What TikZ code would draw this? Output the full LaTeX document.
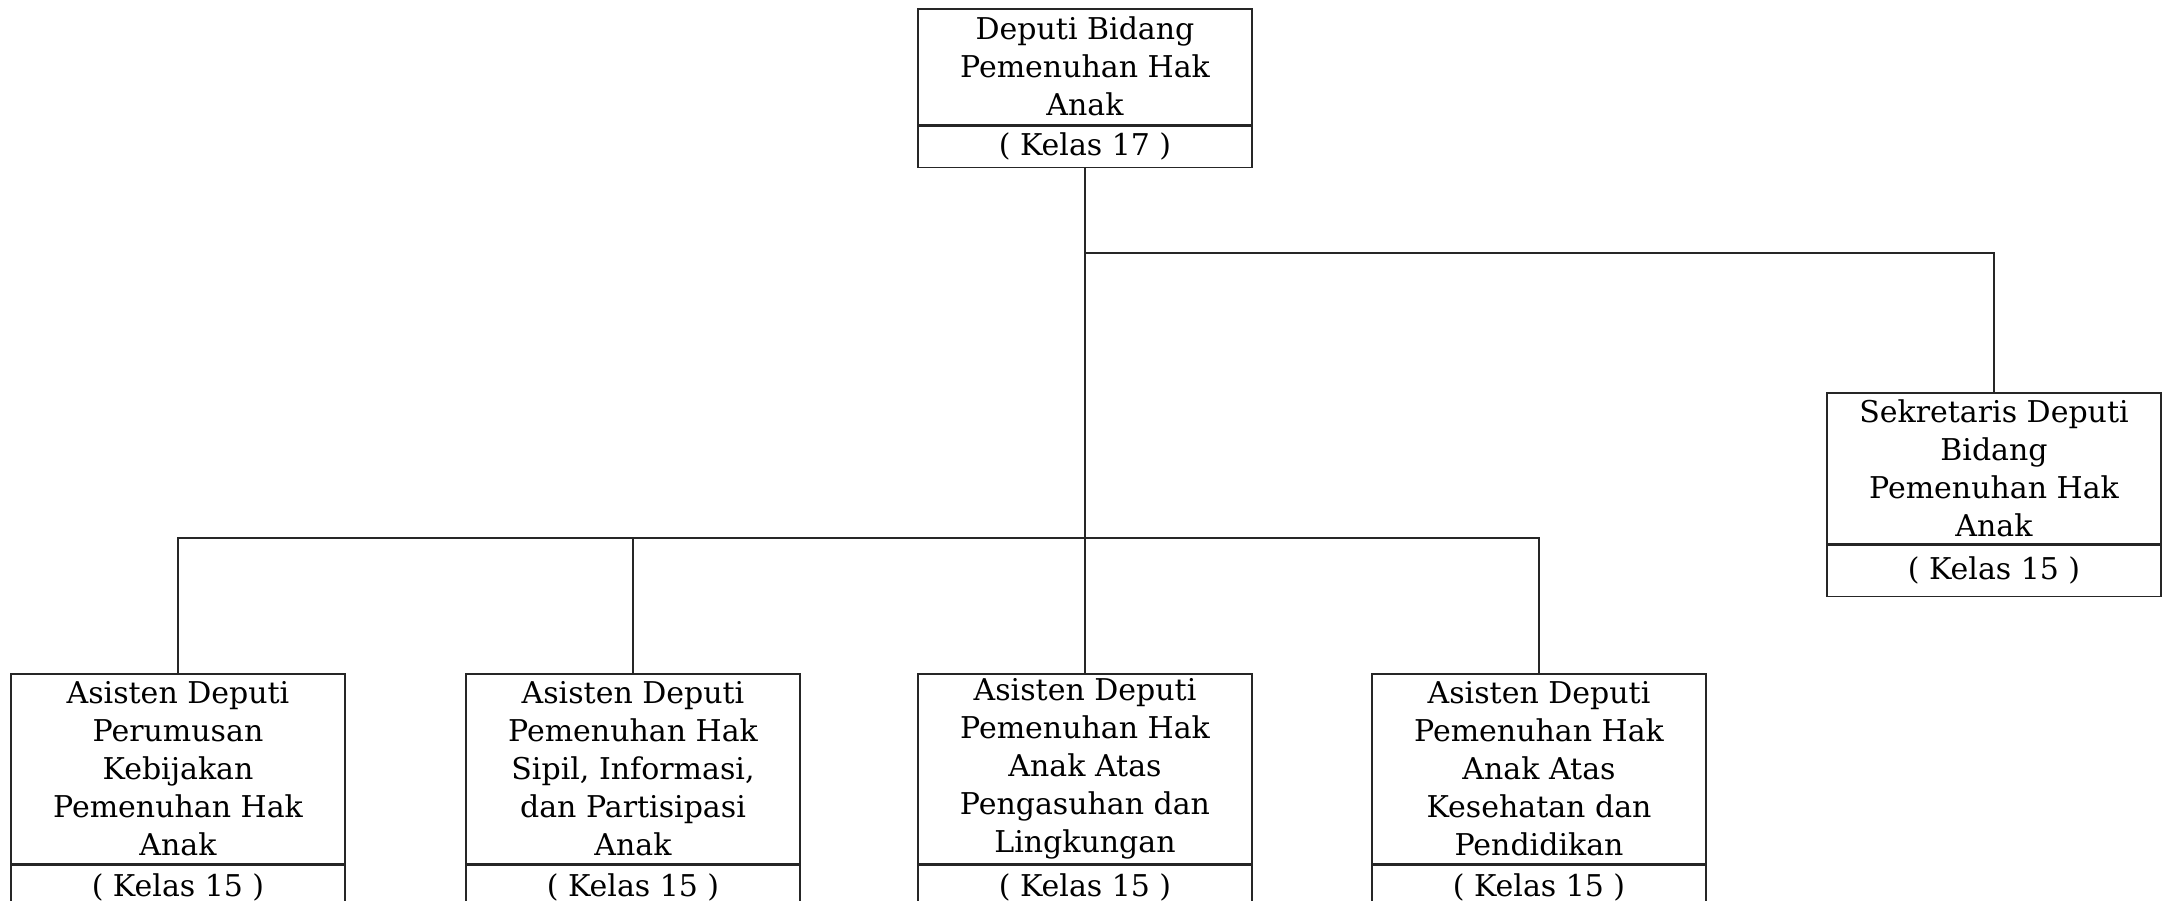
\documentclass[tikz,border=0pt]{standalone}
\usepackage{fontspec}
\setmainfont{DejaVu Serif}
\begin{document}
\begin{tikzpicture}[x=0.5pt,y=-0.5pt,
  color=black!85, line width=0.8pt,
  boxfont/.style={font=\fontsize{15}{19}\selectfont},
  title/.style={draw, rectangle, minimum width=167pt, inner sep=0pt, align=center, anchor=north, boxfont, text=black},
  kelas/.style={draw, rectangle, minimum width=167pt, inner sep=0pt, anchor=north, boxfont, text=black},
  link/.style={draw, line width=0.8pt}]
\useasboundingbox (0,0) rectangle (2168,900);
\clip (0,0) rectangle (2168,900);
\fill[white] (0,0) rectangle (2168,900);

% top
\node[title, minimum height=58pt] (dep) at (1085,8) {Deputi Bidang\\Pemenuhan Hak\\Anak};
\node[kelas, minimum height=20.5pt] (depk) at (dep.south) {( Kelas 17 )};

% secretary
\node[title, minimum height=75.5pt] (sek) at (1994,392) {Sekretaris Deputi\\Bidang\\Pemenuhan Hak\\Anak};
\node[kelas, minimum height=25.5pt] (sekk) at (sek.south) {( Kelas 15 )};

% bottom row
\node[title, minimum height=95pt] (b1) at (178,673) {Asisten Deputi\\Perumusan\\Kebijakan\\Pemenuhan Hak\\Anak};
\node[kelas, minimum height=22pt] (b1k) at (b1.south) {( Kelas 15 )};
\node[title, minimum height=95pt] (b2) at (633,673) {Asisten Deputi\\Pemenuhan Hak\\Sipil, Informasi,\\dan Partisipasi\\Anak};
\node[kelas, minimum height=22pt] (b2k) at (b2.south) {( Kelas 15 )};
\node[title, minimum height=95pt] (b3) at (1085,673) {Asisten Deputi\\Pemenuhan Hak\\Anak Atas\\Pengasuhan dan\\Lingkungan};
\node[kelas, minimum height=22pt] (b3k) at (b3.south) {( Kelas 15 )};
\node[title, minimum height=95pt] (b4) at (1539,673) {Asisten Deputi\\Pemenuhan Hak\\Anak Atas\\Kesehatan dan\\Pendidikan};
\node[kelas, minimum height=22pt] (b4k) at (b4.south) {( Kelas 15 )};

% connectors
\coordinate (hu) at (0,253);
\coordinate (hl) at (0,538);
\draw[link] (depk.south) -- (b3.north);
\draw[link] (depk.south |- hu) -| (sek.north);
\draw[link] (b1.north) |- (b4.north |- hl) -- (b4.north);
\draw[link] (b2.north) -- (b2.north |- hl);
\end{tikzpicture}
\end{document}
